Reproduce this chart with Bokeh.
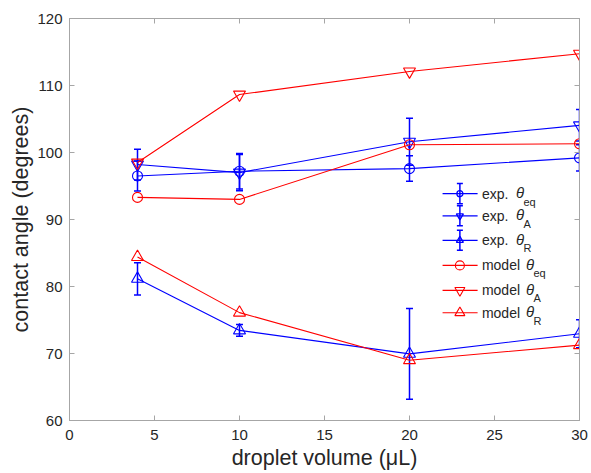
from bokeh.plotting import figure
from bokeh.models import LinearAxis, Label, FixedTicker, Range1d
from bokeh.embed import file_html
from bokeh.resources import INLINE

# ---------------- data ----------------
volume = [4, 10, 20, 30]

exp_eq = [96.5, 97.2, 97.6, 99.2]
exp_eq_err = [2.25, 2.65, 1.9, 1.95]
exp_A = [98.2, 97.0, 101.6, 104.05]
exp_A_err = [2.3, 2.7, 3.5, 2.35]
exp_R = [81.15, 73.45, 69.95, 72.95]
exp_R_err = [2.4, 0.87, 6.77, 2.1]

model_eq = [93.3, 93.0, 101.15, 101.3]
model_A = [98.5, 108.65, 112.1, 114.75]
model_R = [84.4, 76.1, 69.0, 71.25]

x_ticks = [0, 5, 10, 15, 20, 25, 30]
y_ticks = [60, 70, 80, 90, 100, 110, 120]

BLUE = "#0000ff"
RED = "#ff0000"
AXC = "#a6a6a6"
TXT = "#262626"
FONT = "Liberation Sans"

W, H = 591, 473
p = figure(width=W, height=H, output_backend="svg", toolbar_location=None,
           x_range=Range1d(0, 30), y_range=Range1d(60, 120),
           min_border_left=69, min_border_right=12, min_border_top=18,
           min_border_bottom=53)
p.background_fill_color = "white"
p.border_fill_color = "white"
p.outline_line_color = AXC
p.xgrid.visible = False
p.ygrid.visible = False

def style_axis(ax):
    ax.axis_line_color = AXC
    ax.major_tick_line_color = AXC
    ax.minor_tick_line_color = None
    ax.major_tick_in = 5
    ax.major_tick_out = 0
    ax.major_label_text_font = FONT
    ax.major_label_text_font_size = "15px"
    ax.major_label_text_color = TXT
    ax.axis_label_text_font = FONT
    ax.axis_label_text_font_size = "21.5px"
    ax.axis_label_text_font_style = "normal"
    ax.axis_label_text_color = TXT

p.xaxis.ticker = FixedTicker(ticks=x_ticks)
p.yaxis.ticker = FixedTicker(ticks=y_ticks)
style_axis(p.xaxis[0])
style_axis(p.yaxis[0])
p.xaxis.axis_label = "droplet volume (μL)"
p.yaxis.axis_label = "contact angle (degrees)"
p.xaxis.major_label_standoff = 9
p.xaxis.axis_label_standoff = 3
p.yaxis.major_label_standoff = 7
p.yaxis.axis_label_standoff = 1

top_ax = LinearAxis(ticker=FixedTicker(ticks=x_ticks))
right_ax = LinearAxis(ticker=FixedTicker(ticks=y_ticks))
for ax, ticks in ((top_ax, x_ticks), (right_ax, y_ticks)):
    style_axis(ax)
    ax.major_label_overrides = {t: "" for t in ticks}
    ax.major_label_text_color = None
    ax.major_label_standoff = 0
p.add_layout(top_ax, "above")
p.add_layout(right_ax, "right")

# ---------------- series ----------------
def errorbars(xs, lows, highs, col, cap):
    p.segment(x0=xs, y0=lows, x1=xs, y1=highs, line_color=col, line_width=1.5)
    p.scatter(xs, lows, marker="dash", size=cap, line_color=col, line_width=1.5)
    p.scatter(xs, highs, marker="dash", size=cap, line_color=col, line_width=1.5)

for vals, errs in ((exp_eq, exp_eq_err), (exp_A, exp_A_err), (exp_R, exp_R_err)):
    errorbars(volume, [v - e for v, e in zip(vals, errs)],
              [v + e for v, e in zip(vals, errs)], BLUE, 7)

series = [
    (exp_eq, BLUE, "circle", 10),
    (exp_A, BLUE, "inverted_triangle", 12),
    (exp_R, BLUE, "triangle", 12),
    (model_eq, RED, "circle", 10),
    (model_A, RED, "inverted_triangle", 12),
    (model_R, RED, "triangle", 12),
]
for vals, col, mk, sz in series:
    p.line(volume, vals, line_color=col, line_width=1.1)
    p.scatter(volume, vals, marker=mk, size=sz, fill_color=None,
              line_color=col, line_width=1.1)

# ---------------- legend (drawn by hand, positions relative to frame) --------
def fx(px):
    return (px - 69.0) / 509.5 * 30.0

def fy(py):
    return 120.0 - (py - 18.3) / 401.7 * 60.0

rows = [193.3, 215.5, 240.0, 265.0, 290.0, 312.3]
leg = [
    ("exp.", "eq", BLUE, "circle", 6, True),
    ("exp.", "A", BLUE, "inverted_triangle", 7, True),
    ("exp.", "R", BLUE, "triangle", 7, True),
    ("model", "eq", RED, "circle", 9, False),
    ("model", "A", RED, "inverted_triangle", 10, False),
    ("model", "R", RED, "triangle", 10, False),
]
for ry, (word, sub, col, mk, sz, has_err) in zip(rows, leg):
    p.segment(x0=[fx(441.7)], y0=[fy(ry)], x1=[fx(476.7)], y1=[fy(ry)],
              line_color=col, line_width=1.1)
    p.scatter([fx(459)], [fy(ry)], marker=mk, size=sz, fill_color=None,
              line_color=col, line_width=1.3 if has_err else 1.1)
    if has_err:
        errorbars([fx(459)], [fy(ry + 10)], [fy(ry - 10)], col, 6)
    p.add_layout(Label(x=fx(481), y=fy(ry), text=word, text_font=FONT,
                       text_font_size="14px", text_color=TXT,
                       text_baseline="middle", text_align="left"))
    tx = 515 if word == "exp." else 525
    p.add_layout(Label(x=fx(tx), y=fy(ry - 1), text="θ", text_font=FONT,
                       text_font_size="15px", text_font_style="italic",
                       text_color=TXT, text_baseline="middle", text_align="left"))
    p.add_layout(Label(x=fx(tx + 7.5), y=fy(ry + 8), text=sub, text_font=FONT,
                       text_font_size="11px", text_color=TXT,
                       text_baseline="middle", text_align="left"))

open("out.html", "w").write(file_html(p, INLINE))
